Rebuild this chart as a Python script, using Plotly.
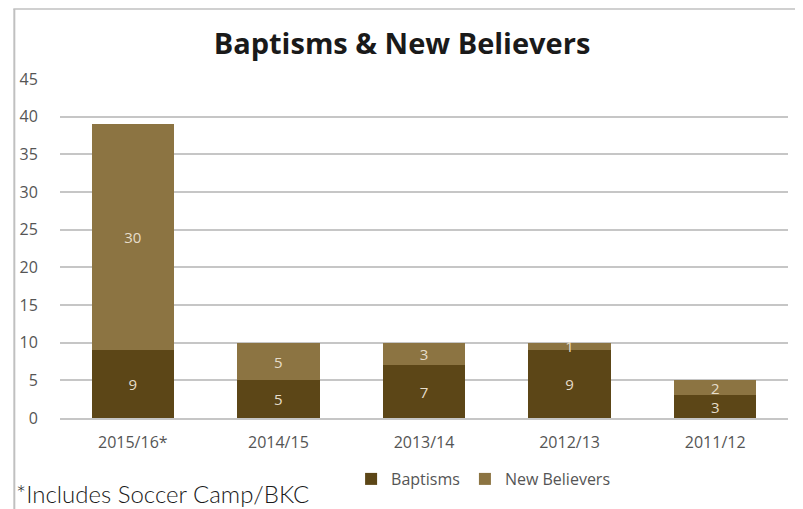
import plotly.graph_objects as go

categories = ["2015/16*", "2014/15", "2013/14", "2012/13", "2011/12"]
baptisms = [9, 5, 7, 9, 3]
new_believers = [30, 5, 3, 1, 2]
title_text = "Baptisms & New Believers"
footnote = "*Includes Soccer Camp/BKC"

# page body has an 8px margin, so figure is drawn 8px smaller and shifted
OFF = 8
W, H = 803 - OFF, 509 - OFF
ML, MR, MT, MB = 55 - OFF, 15, 79 - OFF, 91
pw = W - ML - MR
ph = H - MT - MB

dark = "#5C4617"
light = "#8C7442"
lbl = "#E6DDCB"
tick_col = "#555555"

fig = go.Figure()
fig.add_trace(go.Bar(x=categories, y=baptisms, name="Baptisms",
                     marker=dict(color=dark, line=dict(width=0)),
                     text=baptisms, textposition="inside", insidetextanchor="middle",
                     textangle=0, cliponaxis=False,
                     textfont=dict(color=lbl, size=15, family="Open Sans")))
fig.add_trace(go.Bar(x=categories, y=new_believers, name="New Believers",
                     marker=dict(color=light, line=dict(width=0)),
                     text=new_believers, textposition="inside", insidetextanchor="middle",
                     textangle=0, cliponaxis=False,
                     textfont=dict(color=lbl, size=15, family="Open Sans")))

def px_x(p):
    return (p - OFF - ML) / pw

def px_y(p):
    return (H - MB - (p - OFF)) / ph

fig.update_layout(
    width=W, height=H,
    margin=dict(l=ML, r=MR, t=MT, b=MB),
    barmode="stack", bargap=0.434,
    plot_bgcolor="white", paper_bgcolor="white",
    uniformtext=dict(minsize=15, mode="show"),
    title=dict(text="<b>" + title_text + "</b>", xref="container", x=(402 - OFF) / W,
               xanchor="center", yref="container", y=1 - (44 - OFF) / H, yanchor="middle",
               font=dict(family="Open Sans", size=29, color="#1a1a1a")),
    font=dict(family="Open Sans", size=16, color=tick_col),
    yaxis=dict(range=[0, 45], dtick=5, showgrid=True, gridcolor="#C6C6C6", gridwidth=2,
               zeroline=False, showline=False, ticks="outside", ticklen=18, tickcolor="white",
               tickfont=dict(size=16, color=tick_col)),
    xaxis=dict(showline=True, linecolor="#C6C6C6", linewidth=2, ticks="outside",
               ticklen=9, tickcolor="white", tickfont=dict(size=16, color=tick_col)),
    legend=dict(orientation="h", x=px_x(481), xanchor="center", y=px_y(479), yanchor="middle",
                font=dict(size=16, color=tick_col), traceorder="normal", itemwidth=30),
    showlegend=True,
)

fig.add_shape(type="line", xref="paper", yref="paper", x0=px_x(OFF), x1=px_x(803), y0=px_y(OFF + 1),
              y1=px_y(OFF + 1), line=dict(color="#D0D0D0", width=2))
fig.add_shape(type="line", xref="paper", yref="paper", x0=px_x(OFF + 1), x1=px_x(OFF + 1),
              y0=px_y(OFF + 1), y1=px_y(509), line=dict(color="#C0C0C0", width=2))

fig.add_annotation(text=footnote, xref="paper", yref="paper", x=px_x(OFF + 1), xanchor="left",
                   y=px_y(493), yanchor="middle", showarrow=False,
                   font=dict(family="Lato", size=24, color="#1a1a1a", weight=300))

fig.write_html("out.html")
